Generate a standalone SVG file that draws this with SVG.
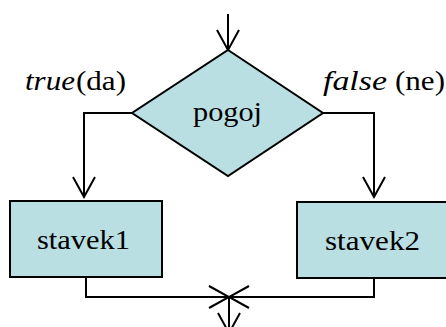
<svg xmlns="http://www.w3.org/2000/svg" width="446" height="327" viewBox="0 0 446 327">
<style>
.shape{fill:#B9DFE3;stroke:#000;stroke-width:2}
.line{fill:none;stroke:#000;stroke-width:2}
.t{font-family:'Liberation Serif','DejaVu Serif',serif;font-size:27px;fill:#000}
.i{font-style:italic}
</style>
<defs>
<marker id="arr" viewBox="0 0 24 24" refX="22" refY="12" markerWidth="24" markerHeight="24" markerUnits="userSpaceOnUse" orient="auto">
<path d="M2,1 L22,12 L2,23" fill="none" stroke="#000" stroke-width="2"/>
</marker>
</defs>
<g id="connectors">
<path class="line" d="M228,14 L228,50" marker-end="url(#arr)"/>
<path class="line" d="M132,113 L84,113 L84,197" marker-end="url(#arr)"/>
<path class="line" d="M323,113 L374,113 L374,197" marker-end="url(#arr)"/>
<path class="line" d="M86,277 L86,297 L229,297" marker-end="url(#arr)"/>
<path class="line" d="M374,278 L374,297 L229,297" marker-end="url(#arr)"/>
<path class="line" d="M229,297 L229,333" marker-end="url(#arr)"/>
</g>
<g id="cond">
<polygon class="shape" points="228,50 323,113 228,176 132,113"/>
<text class="t" x="193" y="121" textLength="69" lengthAdjust="spacingAndGlyphs">pogoj</text>
</g>
<g id="label-true">
<text class="t i" x="25" y="90" textLength="50" lengthAdjust="spacingAndGlyphs">true</text>
<text class="t" x="76" y="90" textLength="50" lengthAdjust="spacingAndGlyphs">(da)</text>
</g>
<g id="label-false">
<text class="t i" x="323" y="90" textLength="64" lengthAdjust="spacingAndGlyphs">false</text>
<text class="t" x="395" y="90" textLength="50" lengthAdjust="spacingAndGlyphs">(ne)</text>
</g>
<g id="stavek1">
<rect class="shape" x="10" y="201" width="152" height="76"/>
<text class="t" x="37" y="249" textLength="93" lengthAdjust="spacingAndGlyphs">stavek1</text>
</g>
<g id="stavek2">
<rect class="shape" x="297" y="202" width="156" height="76"/>
<text class="t" x="325" y="250" textLength="95" lengthAdjust="spacingAndGlyphs">stavek2</text>
</g>
</svg>
